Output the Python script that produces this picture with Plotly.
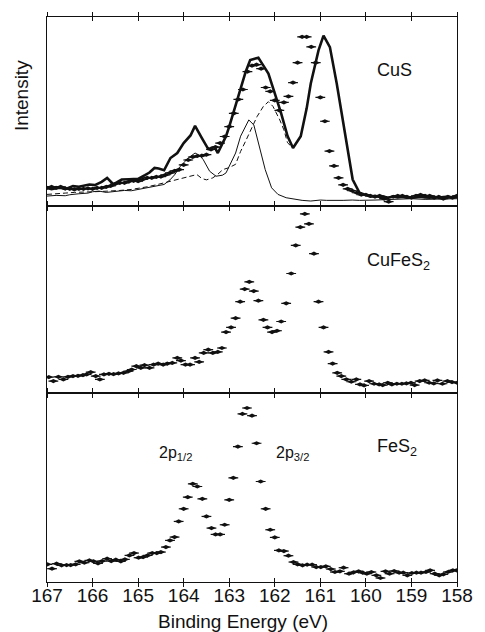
import plotly.graph_objects as go

# ---------------- CuS panel ----------------
cus_line_e = [167.00, 166.90, 166.80, 166.70, 166.60, 166.43, 166.30, 166.20, 166.07, 165.95,
              165.80, 165.68, 165.54, 165.45, 165.36, 165.20, 165.00, 164.85, 164.75, 164.64,
              164.55, 164.43, 164.29, 164.14, 164.00, 163.85, 163.75, 163.60, 163.46, 163.38,
              163.32, 163.25, 163.07, 163.00, 162.85, 162.71, 162.64, 162.54, 162.36, 162.25,
              162.14, 162.00, 161.86, 161.72, 161.60, 161.43, 161.30, 161.21, 161.04, 160.93,
              160.79, 160.64, 160.50, 160.43, 160.29, 160.14, 160.00, 159.90, 159.80, 159.70,
              159.60, 159.50, 159.40, 159.30, 159.20, 159.10, 159.00, 158.90, 158.80, 158.70,
              158.60, 158.50, 158.40, 158.30, 158.20, 158.10, 158.00]
cus_line_i = [54, 50, 53, 54, 50, 59, 57, 60, 64, 62,
              72, 84, 64, 72, 79, 80, 81, 92, 100, 114,
              112, 107, 144, 159, 189, 212, 241, 204, 171, 174,
              177, 159, 210, 239, 309, 379, 404, 440, 447, 423,
              399, 339, 279, 210, 174, 210, 294, 369, 469, 514,
              479, 369, 255, 189, 79, 39, 33, 27, 30, 26,
              27, 24, 28, 25, 27, 24, 24, 26, 27, 25,
              24, 27, 24, 26, 27, 25, 30]

cus_dot_e = [167.0, 166.9, 166.8, 166.7, 166.6, 166.5, 166.4, 166.3, 166.2, 166.1,
             166.0, 165.9, 165.8, 165.7, 165.6, 165.5, 165.4, 165.3, 165.2, 165.1,
             165.0, 164.9, 164.8, 164.7, 164.6, 164.5, 164.4, 164.3, 164.2, 164.1,
             164.0, 163.9, 163.8, 163.7, 163.6, 163.5, 163.4, 163.3, 163.2, 163.1,
             163.0, 162.9, 162.8, 162.7, 162.6, 162.5, 162.4, 162.3, 162.2, 162.1,
             162.0, 161.9, 161.8, 161.7, 161.6, 161.5, 161.4, 161.3, 161.2, 161.1,
             161.0, 160.9, 160.8, 160.7, 160.6, 160.5, 160.4, 160.3, 160.2, 160.1,
             160.0, 159.9, 159.8, 159.7, 159.6, 159.5, 159.4, 159.3, 159.2, 159.1,
             159.0, 158.9, 158.8, 158.7, 158.6, 158.5, 158.4, 158.3, 158.2, 158.1, 158.0]
cus_dot_i = [54, 57, 54, 57, 52, 51, 49, 51, 51, 52,
             51, 54, 54, 57, 60, 66, 69, 69, 73, 75,
             74, 79, 84, 84, 87, 88, 93, 99, 105, 109,
             123, 138, 147, 150, 151, 154, 170, 177, 189, 209,
             239, 279, 321, 351, 405, 423, 426, 414, 357, 345,
             318, 288, 312, 330, 372, 432, 510, 510, 480, 432,
             327, 255, 165, 120, 84, 63, 51, 45, 39, 33,
             33, 30, 27, 30, 21, 12, 27, 30, 30, 27,
             24, 30, 33, 30, 30, 24, 27, 21, 27, 24, 30]

cus_thin_e = [167.00, 166.80, 166.60, 166.50, 166.30, 166.10, 166.00, 165.86, 165.70, 165.50,
              165.30, 165.15, 165.00, 164.85, 164.70, 164.55, 164.43, 164.30, 164.20, 164.07,
              163.90, 163.75, 163.65, 163.57, 163.43, 163.29, 163.15, 163.07, 162.97, 162.86,
              162.75, 162.68, 162.57, 162.46, 162.36, 162.27, 162.21, 162.07, 161.93, 161.75,
              161.57, 161.40, 161.21, 161.00, 160.86, 160.70, 160.50, 160.30, 160.14, 159.80,
              159.50, 159.20, 159.00, 158.70, 158.50, 158.20, 158.00]
cus_thin_i = [29, 31, 30, 33, 36, 38, 42, 44, 40, 42,
              46, 45, 49, 52, 57, 60, 64, 78, 93, 119,
              144, 159, 152, 139, 104, 89, 92, 99, 130, 159,
              210, 229, 259, 244, 189, 134, 109, 54, 34, 24,
              19, 16, 14, 17, 16, 15, 16, 17, 16, 17,
              18, 20, 21, 19, 19, 20, 21]

cus_dash_e = [167.00, 166.80, 166.60, 166.40, 166.20, 166.00, 165.80, 165.60, 165.40, 165.15,
              165.00, 164.80, 164.60, 164.43, 164.20, 164.00, 163.85, 163.71, 163.60, 163.50,
              163.36, 163.25, 163.14, 163.00, 162.86, 162.75, 162.64, 162.50, 162.39, 162.25,
              162.14, 162.04, 161.89, 161.80, 161.72, 161.60]
cus_dash_i = [34, 35, 38, 40, 40, 42, 43, 44, 46, 49,
              52, 57, 63, 69, 76, 84, 90, 94, 82, 78,
              84, 95, 109, 115, 125, 164, 195, 235, 269, 300,
              314, 300, 259, 229, 190, 174]

# ---------------- CuFeS2 panel ----------------
cufes2_e = [166.96, 166.86, 166.75, 166.64, 166.54, 166.43, 166.32, 166.21, 166.13, 166.04,
            165.93, 165.84, 165.75, 165.64, 165.54, 165.43, 165.32, 165.21, 165.14, 165.04,
            164.94, 164.86, 164.75, 164.66, 164.56, 164.45, 164.36, 164.25, 164.14, 164.06,
            163.96, 163.86, 163.75, 163.66, 163.56, 163.46, 163.36, 163.25, 163.16, 163.07,
            162.96, 162.86, 162.76, 162.66, 162.56, 162.46, 162.36, 162.25, 162.16, 162.06,
            161.95, 161.86, 161.75, 161.64, 161.54, 161.44, 161.34, 161.25, 161.14, 161.04,
            160.93, 160.82, 160.73, 160.63, 160.54, 160.43, 160.32, 160.21, 160.13, 160.04,
            159.93, 159.82, 159.71, 159.63, 159.52, 159.43, 159.32, 159.21, 159.11, 159.01,
            158.93, 158.82, 158.71, 158.61, 158.51, 158.43, 158.32, 158.21, 158.11, 158.00]
cufes2_i = [49, 37, 50, 42, 50, 52, 53, 55, 57, 64,
            52, 42, 57, 59, 58, 60, 62, 67, 72, 82,
            77, 85, 77, 87, 90, 87, 90, 92, 107, 99,
            87, 87, 107, 95, 122, 132, 122, 125, 137, 185,
            199, 227, 277, 315, 337, 309, 280, 222, 199, 185,
            189, 217, 272, 362, 447, 502, 542, 512, 422, 277,
            199, 125, 90, 62, 52, 42, 35, 42, 27, 24,
            37, 29, 27, 25, 32, 27, 29, 29, 30, 32,
            25, 37, 39, 32, 30, 39, 29, 37, 34, 32]

# ---------------- FeS2 panel ----------------
fes2_e = [166.99, 166.89, 166.79, 166.68, 166.57, 166.48, 166.37, 166.29, 166.18, 166.07,
          165.98, 165.88, 165.79, 165.68, 165.59, 165.49, 165.38, 165.29, 165.19, 165.09,
          164.99, 164.89, 164.79, 164.69, 164.59, 164.50, 164.39, 164.30, 164.20, 164.11,
          164.00, 163.91, 163.80, 163.70, 163.59, 163.50, 163.39, 163.30, 163.20, 163.10,
          163.00, 162.91, 162.81, 162.71, 162.61, 162.50, 162.40, 162.31, 162.20, 162.10,
          162.00, 161.91, 161.80, 161.70, 161.59, 161.50, 161.39, 161.29, 161.18, 161.09,
          160.99, 160.88, 160.77, 160.68, 160.57, 160.49, 160.37, 160.27, 160.16, 160.07,
          159.98, 159.88, 159.77, 159.68, 159.57, 159.48, 159.38, 159.27, 159.18, 159.09,
          158.99, 158.89, 158.79, 158.68, 158.59, 158.49, 158.39, 158.30, 158.20, 158.09, 158.01]
fes2_i = [53, 40, 55, 50, 51, 51, 53, 62, 58, 65,
          62, 56, 63, 70, 63, 67, 62, 68, 80, 87,
          73, 75, 80, 87, 87, 90, 105, 125, 135, 182,
          220, 255, 295, 287, 250, 197, 162, 143, 143, 172,
          247, 313, 407, 505, 523, 500, 417, 302, 220, 157,
          134, 95, 93, 79, 60, 53, 50, 52, 52, 45,
          45, 47, 39, 30, 32, 43, 25, 29, 32, 28,
          25, 30, 20, 12, 32, 25, 33, 28, 28, 20,
          27, 28, 28, 30, 35, 25, 20, 23, 30, 35, 35]

energy_ticks = [167, 166, 165, 164, 163, 162, 161, 160, 159, 158]
panel_labels = ["CuS", "CuFeS<sub>2</sub>", "FeS<sub>2</sub>"]
peak_labels = ["2p<sub>1/2</sub>", "2p<sub>3/2</sub>"]

FONT = "Liberation Sans, Arial, sans-serif"
INK = "#111111"

dot_marker = dict(symbol="diamond-wide", size=6, color=INK, line=dict(width=0))


def add_dots(fig, xs, ys, xa, ya):
    # each data point: small filled body with a short horizontal bar
    fig.add_trace(go.Scatter(x=xs, y=ys, mode="markers", marker=dot_marker,
                             xaxis=xa, yaxis=ya, showlegend=False, hoverinfo="skip"))
    fig.add_trace(go.Scatter(x=xs, y=ys, mode="markers",
                             marker=dict(symbol="line-ew", size=7,
                                         line=dict(color=INK, width=1.2)),
                             xaxis=xa, yaxis=ya, showlegend=False))


fig = go.Figure()

# CuS: measured spectrum (thick), reference points, two fitted components
fig.add_trace(go.Scatter(x=cus_dash_e, y=cus_dash_i, mode="lines",
                         line=dict(color=INK, width=1, dash="5px,3px"),
                         xaxis="x", yaxis="y", showlegend=False))
fig.add_trace(go.Scatter(x=cus_thin_e, y=cus_thin_i, mode="lines",
                         line=dict(color=INK, width=1),
                         xaxis="x", yaxis="y", showlegend=False))
add_dots(fig, cus_dot_e, cus_dot_i, "x", "y")
fig.add_trace(go.Scatter(x=cus_line_e, y=cus_line_i, mode="lines",
                         line=dict(color=INK, width=2.6),
                         xaxis="x", yaxis="y", showlegend=False))

add_dots(fig, cufes2_e, cufes2_i, "x2", "y2")
add_dots(fig, fes2_e, fes2_i, "x3", "y3")

H = 569.0
dom_top = [379 / H, 1.0]
dom_mid = [190 / H, 379 / H]
dom_bot = [0.0, 190 / H]

xcommon = dict(range=[167, 158], tickvals=energy_ticks, ticks="outside", ticklen=4,
               tickwidth=1, tickcolor=INK, showline=True, linecolor=INK, linewidth=1,
               mirror="ticks", showgrid=False, zeroline=False, showticklabels=False)
ycommon = dict(showticklabels=False, ticks="", showline=True, linecolor=INK,
               linewidth=1.2, mirror=True, showgrid=False, zeroline=False)

fig.update_layout(
    width=485, height=632,
    margin=dict(l=47, r=18, t=13, b=50),
    paper_bgcolor="white", plot_bgcolor="white",
    font=dict(family=FONT, color=INK, size=18),
    xaxis=dict(**xcommon, anchor="y"),
    xaxis2=dict(**xcommon, anchor="y2"),
    xaxis3=dict(**xcommon, anchor="y3"),
    # inward tick sets on the outer frame edges; the bottom one carries the labels
    xaxis4=dict(range=[167, 158], tickvals=energy_ticks, ticks="inside", ticklen=4,
                tickcolor=INK, overlaying="x", anchor="y", side="top",
                showticklabels=False, showline=False, showgrid=False, zeroline=False),
    xaxis5=dict(range=[167, 158], tickvals=energy_ticks, ticks="inside", ticklen=4,
                tickcolor=INK, overlaying="x3", anchor="y3", side="bottom",
                showticklabels=True, tickfont=dict(size=19, family=FONT, color=INK),
                showline=False, showgrid=False, zeroline=False),
    yaxis=dict(**ycommon, domain=dom_top, range=[0, 570], anchor="x"),
    yaxis2=dict(**ycommon, domain=dom_mid, range=[0, 567], anchor="x2"),
    yaxis3=dict(**ycommon, domain=dom_bot, range=[0, 567], anchor="x3"),
)

# invisible helpers so the overlay tick axes are drawn
fig.add_trace(go.Scatter(x=[167], y=[0], mode="markers", marker=dict(opacity=0),
                         xaxis="x4", yaxis="y", showlegend=False, hoverinfo="skip"))
fig.add_trace(go.Scatter(x=[167], y=[0], mode="markers", marker=dict(opacity=0),
                         xaxis="x5", yaxis="y3", showlegend=False, hoverinfo="skip"))

ann = []
ann.append(dict(text=panel_labels[0], x=159.79, y=411, xref="x", yref="y",
                xanchor="left", yanchor="middle", showarrow=False,
                font=dict(size=18, family=FONT, color=INK)))
ann.append(dict(text=panel_labels[1], x=160.03, y=397, xref="x2", yref="y2",
                xanchor="left", yanchor="middle", showarrow=False,
                font=dict(size=18, family=FONT, color=INK)))
ann.append(dict(text=panel_labels[2], x=159.79, y=404, xref="x3", yref="y3",
                xanchor="left", yanchor="middle", showarrow=False,
                font=dict(size=18, family=FONT, color=INK)))
ann.append(dict(text=peak_labels[0], x=164.59, y=385, xref="x3", yref="y3",
                xanchor="left", yanchor="middle", showarrow=False,
                font=dict(size=16, family=FONT, color=INK)))
ann.append(dict(text=peak_labels[1], x=162.02, y=385, xref="x3", yref="y3",
                xanchor="left", yanchor="middle", showarrow=False,
                font=dict(size=16, family=FONT, color=INK)))
ann.append(dict(text="Intensity", x=-0.062, y=0.861, xref="paper", yref="paper",
                xanchor="center", yanchor="middle", textangle=-90, showarrow=False,
                font=dict(size=19, family=FONT, color=INK)))
ann.append(dict(text="Binding Energy (eV)", x=0.478, y=-0.0905, xref="paper", yref="paper",
                xanchor="center", yanchor="bottom", borderpad=0, showarrow=False,
                font=dict(size=19, family=FONT, color=INK)))
fig.update_layout(annotations=ann)

fig.write_html("out.html")
